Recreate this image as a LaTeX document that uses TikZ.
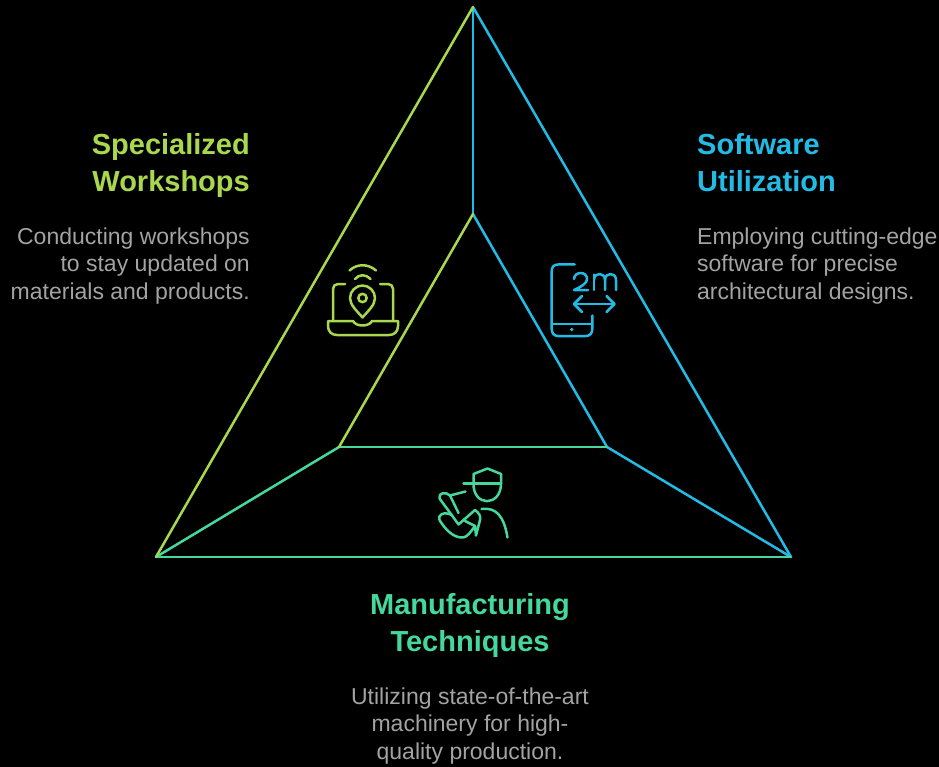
\documentclass[tikz,border=0pt]{standalone}
\usepackage{fontspec}
\setmainfont{Liberation Sans}
\definecolor{lime}{HTML}{A9D84E}
\definecolor{sky}{HTML}{22BBE6}
\definecolor{teal}{HTML}{45D79B}
\definecolor{greytext}{HTML}{A3A3A3}
\tikzset{
  edge/.style={line width=2.5pt,line cap=round,line join=round},
  icon/.style={line width=2.5pt,line cap=round,line join=round},
  ttl/.style={font=\fontsize{29}{34}\selectfont\bfseries,inner sep=0pt},
  bdy/.style={font=\fontsize{23}{26}\selectfont,text=greytext,inner sep=0pt}
}
\begin{document}
\begin{tikzpicture}[x=1pt,y=-1pt]
\fill[black] (0,0) rectangle (939,767);
\useasboundingbox (0,0) rectangle (939,767);
\coordinate (A) at (473,7);
\coordinate (L) at (156,557);
\coordinate (R) at (791,557);
\coordinate (IT) at (473,214);
\coordinate (IL) at (339,447);
\coordinate (IR) at (607,447);
\draw[edge,sky] (A) -- (IT);
\draw[edge,sky] (A) -- (R);
\draw[edge,sky] (IT) -- (IR);
\draw[edge,sky] (IR) -- (R);
\draw[edge,teal] (L) -- (R);
\draw[edge,teal] (L) -- (IL);
\draw[edge,teal] (IL) -- (IR);
\draw[edge,lime] (A) -- (L);
\draw[edge,lime] (IT) -- (IL);
% laptop icon
\begin{scope}[icon,draw=lime]
\draw (345,284) -- (338,284) .. controls (335,284) and (333,286) .. (333,289) -- (333,321);
\draw (380,284) -- (388,284) .. controls (391,284) and (393,286) .. (393,289) -- (393,321);
\draw (328,321) -- (353,321) .. controls (356,327) and (369,327) .. (372,321) -- (398,321) -- (398,326) .. controls (398,332) and (394,335) .. (389,335) -- (337,335) .. controls (332,335) and (328,332) .. (328,326) -- cycle;
\draw (362.5,317.5) .. controls (357,311) and (350,305) .. (350,298) .. controls (350,291) and (356,285.5) .. (362.5,285.5) .. controls (369,285.5) and (375,291) .. (375,298) .. controls (375,305) and (368,311) .. (362.5,317.5) -- cycle;
\draw (362.5,298) circle (4.2);
\draw (349.5,270.5) .. controls (357,263.5) and (368,263.5) .. (376,270.5);
\draw (355,279) .. controls (359,274) and (366,274) .. (370.5,279);
\end{scope}
% phone icon
\begin{scope}[icon,draw=sky]
\draw (574.5,264.5) -- (558,264.5) .. controls (554,264.5) and (551.7,267) .. (551.7,271) -- (551.7,329) .. controls (551.7,333) and (554,336) .. (558,336) -- (586,336) .. controls (590,336) and (592.3,333) .. (592.3,329) -- (592.3,315.5);
\draw (551.7,324) -- (592.3,324);
\fill[sky] (571.7,329.5) circle (1.9);
\draw (574,279) .. controls (574.5,271) and (587,271) .. (587,279) .. controls (587.5,283) and (581,287) .. (574,290) -- (588,290);
\draw (594,290) -- (594,274.5);
\draw (594,280) .. controls (594,272) and (605,272) .. (605,280) -- (605,290);
\draw (605,280) .. controls (605,272) and (616,272) .. (616,280) -- (616,290);
\draw (574,304) -- (614.5,304);
\draw (582,296) -- (574,304) -- (582,312);
\draw (606.5,296) -- (614.5,304) -- (606.5,312);
\end{scope}
% worker icon
\begin{scope}[icon,draw=teal]
\draw (463.5,483.5) -- (501,483.5);
\draw (473.5,483.5) -- (473.5,474) -- (487.5,468.5) -- (501,474) -- (501,483.5);
\draw (473.5,483.5) .. controls (473,507) and (501,507) .. (501,483.5);
\draw (481.5,509) .. controls (497,507) and (504,517) .. (507.5,537.5);
\draw (450,495.5) -- (465.5,491.5);
\draw (458.5,513) -- (450,495.5) .. controls (446,491.5) and (438,492.5) .. (439.5,498.5) -- (451.7,515);
\draw (451.7,515) .. controls (444,511) and (437,515) .. (439.5,520) .. controls (445,529) and (453,538) .. (463,537.5) .. controls (468,537) and (471,531) .. (475,526) -- (476,535.5) -- (480,520) .. controls (481,516) and (479,513) .. (475,510);
\draw (451.7,515) -- (458.5,524.5) -- (475,510);
\draw (465,521) -- (475,526);
\end{scope}
% labels
\node[ttl,text=lime,anchor=base east] (t1a) at (250,155) {Specialized};
\node[ttl,text=lime,anchor=base east] (t1b) at (250,192) {Workshops};
\node[bdy,anchor=base east] (b1a) at (250,244) {Conducting workshops};
\node[bdy,anchor=base east] (b1b) at (250,272) {to stay updated on};
\node[bdy,anchor=base east] (b1c) at (250,299) {materials and products.};
\node[ttl,text=sky,anchor=base west] (t2a) at (697,155) {Software};
\node[ttl,text=sky,anchor=base west] (t2b) at (697,192) {Utilization};
\node[bdy,anchor=base west] (b2a) at (697,244) {Employing cutting-edge};
\node[bdy,anchor=base west] (b2b) at (697,272) {software for precise};
\node[bdy,anchor=base west] (b2c) at (697,299) {architectural designs.};
\node[ttl,text=teal,anchor=base] (t3a) at (470,614) {Manufacturing};
\node[ttl,text=teal,anchor=base] (t3b) at (470,651) {Techniques};
\node[bdy,anchor=base] (b3a) at (470,704) {Utilizing state-of-the-art};
\node[bdy,anchor=base] (b3b) at (470,731) {machinery for high-};
\node[bdy,anchor=base] (b3c) at (470,759) {quality production.};
\end{tikzpicture}
\end{document}
